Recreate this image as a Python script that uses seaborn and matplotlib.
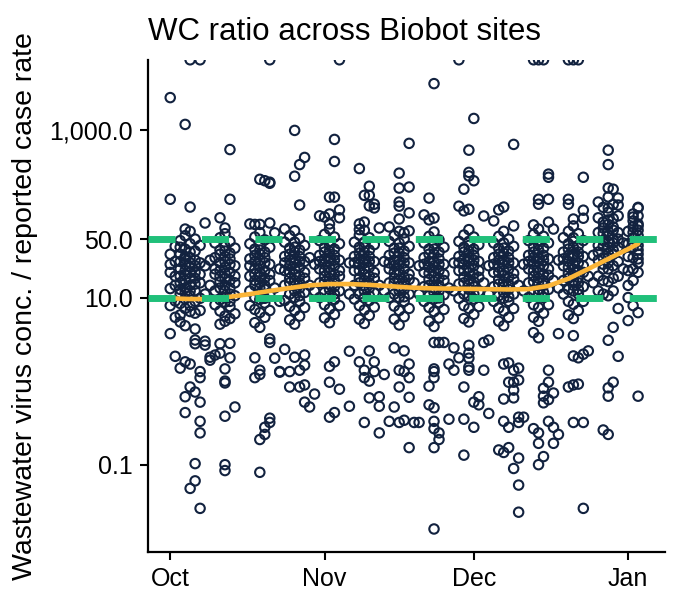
import pandas as pd
import seaborn as sns
import matplotlib.pyplot as plt
from matplotlib.ticker import NullLocator

# weekly sampling rounds: {day offset from round centre: ratios}
wk1005 = {-4: [33, 25, 20, 12.8, 8.0, 2470, 150, 3.7],
          -3: [41, 27, 14, 9.1, 5.8, 18, 1.98],
          -2: [48, 33, 22, 15, 11, 8.5, 6.2, 27, 18, 12.5, 40, 5.1, 1.43],
          -1: [55, 38, 29, 21, 16, 13, 9.6, 7.4, 25, 19, 31, 4.6, 11.5, 1180, 66, 1.7, 0.65, 0.42],
          0: [62, 44, 35, 26, 20, 14, 10.5, 8.0, 6.8, 17, 23, 30, 12, 7000, 121, 1.6, 0.85, 0.052],
          1: [50, 36, 24, 17, 12, 9.0, 6.5, 28, 20, 14.5, 4.2, 3.1, 2.8, 0.74, 0.103, 0.064],
          2: [42, 26, 15, 9.8, 19, 7.0, 7000, 1.3, 1.1, 0.56, 0.33, 0.24, 0.030],
          3: [78, 3.0, 2.7, 24, 11]}
wk1012 = {-3: [1.93, 1.78, 28, 14],
          -2: [2.05, 45, 30, 19, 12, 8.2, 22],
          -1: [52, 37, 26, 18, 13, 9.4, 6.9, 4.8, 21, 33, 15.5, 90, 2.16, 2.8],
          0: [58, 41, 31, 23, 17, 12, 8.8, 6.0, 27, 19.5, 14, 10, 36, 5.2, 68, 1.4, 1.0, 0.95, 0.38, 0.1, 0.085],
          1: [47, 34, 25, 16, 11, 7.8, 29, 20, 13, 9.0, 5.6, 590, 150, 2.83, 1.9],
          2: [39, 24, 15, 10.5, 6.4, 18, 0.49]}
wk1019 = {-2: [44, 29, 18, 12, 8.0, 24, 76],
          -1: [53, 38, 27, 19, 14, 10, 7.2, 5.0, 22, 32, 16, 75, 1.9, 1.1],
          0: [60, 43, 33, 24, 18, 13, 9.5, 6.6, 28, 20, 15, 11, 37, 4.4, 260, 75, 1.35, 1.2, 0.2, 0.081],
          1: [49, 35, 26, 17, 12.5, 8.6, 30, 21, 14, 9.8, 5.8, 250, 0.28, 0.23],
          2: [40, 25, 16, 11, 7.0, 19, 7000, 240, 233, 78, 3.2, 2.9, 0.36, 0.32],
          3: [59.5, 1.88, 13]}
wk1026 = {-3: [1.28, 1.3, 22, 9],
          -2: [46, 31, 21, 14, 9.2, 26, 66, 2.4],
          -1: [55, 39, 28, 20, 15, 11, 7.8, 5.4, 24, 33, 17, 1.3, 0.85],
          0: [63, 46, 35, 26, 19, 14, 10, 7.0, 29, 22, 16, 12, 40, 4.8, 1000, 283, 1.93],
          1: [51, 37, 27, 18, 13, 9.0, 31, 23, 15, 10.5, 6.0, 390, 128, 1.35, 0.85],
          2: [42, 27, 17, 11.5, 7.6, 20, 475, 1.55, 2.05, 0.9, 0.56],
          3: [0.49, 14, 30]}
wk1102 = {-3: [0.7, 25, 12],
          -2: [48, 32, 22, 15, 10, 27, 95],
          -1: [57, 40, 29, 21, 15.5, 11.5, 8.2, 5.7, 25, 35, 18, 92],
          0: [66, 47, 36, 27, 20, 14.5, 10.5, 7.3, 30, 23, 17, 12.5, 42, 5.0, 159, 100, 76, 1.5, 0.97, 0.37],
          1: [53, 38, 28, 19, 13.5, 9.5, 32, 24, 16, 11, 6.3, 780, 425, 159, 1.7, 0.42],
          2: [44, 28, 18, 12, 8.0, 21, 7000, 112, 90, 0.8]}
wk1109 = {-3: [2.28, 0.5, 26, 11],
          -2: [46, 31, 21, 14, 9.6, 26],
          -1: [56, 40, 29, 21, 15, 11, 8.0, 5.5, 25, 34, 17, 350, 76, 65, 1.7],
          0: [64, 46, 35, 26, 19, 14, 10, 7.1, 29, 22, 16, 12, 40, 4.9, 167, 80, 1.35, 1.1, 0.32],
          1: [52, 37, 27, 18, 13, 9.2, 31, 23, 15, 10.5, 6.1, 215, 167, 125, 1.0, 2.3, 0.63],
          2: [43, 27, 17, 11.5, 7.7, 20, 118, 131, 1.7, 1.3],
          3: [68, 0.65, 0.5, 0.24, 14]}
wk1116 = {-3: [1.2, 27, 12],
          -2: [47, 32, 22, 15, 10, 26, 70, 0.33],
          -1: [55, 39, 28, 20, 15, 11, 7.9, 5.5, 24, 34, 17, 2.5, 0.49],
          0: [62, 45, 34, 25, 19, 13.5, 10, 7.0, 28, 21, 16, 12, 39, 4.7, 308, 204, 139, 124, 87, 1.35, 0.85, 0.32],
          1: [50, 36, 26, 17.5, 12.5, 9.0, 30, 22, 14.5, 10.2, 5.9, 59.5, 2.3, 1.3, 0.34],
          2: [41, 26, 16.5, 11, 7.4, 19, 700, 210, 103, 62.8, 1.6, 1.1, 0.64, 0.16],
          3: [0.32, 15]}
wk1123 = {-3: [0.32, 24, 11],
          -2: [45, 30, 20, 13.5, 9.0, 25, 97.5],
          -1: [54, 38, 27, 19.5, 14, 10.5, 7.6, 5.2, 23, 33, 16.5, 155, 85, 0.87, 0.52],
          0: [61, 44, 33, 24, 18, 13, 9.6, 6.8, 27, 20.5, 15.5, 11.5, 38, 4.5, 3630, 89.4, 2.9, 1.4, 1.3, 1.1,
              0.48, 0.33, 0.27, 0.16, 0.017],
          1: [49, 35, 25, 17, 12, 8.7, 29, 21, 14, 9.9, 5.7, 2.9, 0.24, 0.2],
          2: [40, 25, 16, 10.8, 7.2, 19, 2.9],
          3: [0.35, 1.6, 13]}
wk1130 = {-3: [2.5, 1.35, 26, 12],
          -2: [47, 31, 21, 14.5, 9.8, 26, 7000, 124, 1.9],
          -1: [56, 40, 29, 21, 15, 11, 8.0, 5.6, 25, 35, 17.5, 198, 109, 0.85, 0.35, 0.13],
          0: [65, 47, 36, 27, 20, 14.5, 10.5, 7.4, 30, 22.5, 16.5, 12.5, 42, 5.1, 580, 315, 285, 114, 1.35,
              2.68, 2.16, 1.88, 1.47],
          1: [53, 38, 28, 19, 13.5, 9.6, 32, 24, 15.5, 11, 6.3, 1390, 250, 0.56, 0.28],
          2: [43, 27, 17.5, 11.8, 7.8, 21, 0.52, 0.65],
          3: [94.6, 1.35, 2.9, 15]}
wk1207 = {-3: [3.1, 0.41, 24, 11],
          -2: [45, 30, 20, 13.5, 9.0, 25, 82.6],
          -1: [54, 39, 28, 20, 14.5, 10.5, 7.5, 5.2, 23, 33, 16.5, 112, 0.15],
          0: [62, 45, 34, 25, 18.5, 13.5, 9.8, 6.9, 28, 21, 15.5, 11.5, 39, 4.6, 121, 1.6, 0.61, 0.33, 0.14],
          1: [50, 36, 26, 17.5, 12.5, 9.0, 30, 22, 14.5, 10.2, 5.8, 1.65, 0.97, 0.28, 0.16],
          2: [41, 26, 16.5, 11, 7.4, 19.5, 680, 72, 1.35, 0.97, 0.78, 0.63, 0.09],
          3: [1.43, 1.03, 0.37, 0.32, 0.12, 0.057, 0.027, 14]}
wk1214 = {-3: [0.37, 25, 12],
          -2: [48, 32, 22, 15, 10, 27],
          -1: [57, 41, 30, 21, 15.5, 11.5, 8.2, 5.8, 25, 35, 18, 7000, 74, 3.8, 0.27],
          0: [66, 48, 37, 27, 20, 15, 11, 7.6, 30, 23, 17, 12.5, 43, 5.2, 7000, 150, 131, 3.3, 0.24, 0.18, 0.1],
          1: [54, 39, 28, 19, 14, 10, 32, 24, 16, 11.5, 6.5, 7000, 0.82, 0.66, 0.55, 0.125],
          2: [45, 29, 18.5, 12.5, 8.2, 22, 300, 275, 150, 80, 1.35, 0.97, 0.6, 0.33],
          3: [66, 0.72, 0.28, 0.18, 16]}
wk1221 = {-3: [0.23, 3.7, 28, 13],
          -2: [52, 35, 24, 16, 11, 29],
          -1: [62, 44, 32, 23, 17, 12.5, 9.0, 6.2, 27, 38, 19.5, 7000, 150, 131, 0.85],
          0: [72, 52, 40, 30, 22, 16, 12, 8.3, 33, 25, 18.5, 14, 47, 5.6, 7000, 87, 3.5, 2.0, 0.9, 0.32],
          1: [58, 42, 31, 21, 15, 11, 35, 26, 17.5, 12.5, 7.0, 7000, 1.9, 0.92],
          2: [48, 31, 20, 13.5, 9.0, 24, 275, 111, 89, 2.1, 0.32, 0.03],
          3: [2.3, 18]}
wk1228 = {-3: [32, 15],
          -2: [90, 60, 42, 28, 18, 12, 35, 139],
          -1: [120, 80, 58, 41, 30, 22, 16, 11, 48, 68, 25, 0.26],
          0: [160, 105, 75, 55, 40, 30, 22, 15.5, 10.5, 62, 46, 34, 26, 85, 580, 390, 205, 118, 3.08, 0.83,
              0.66, 0.23],
          1: [130, 88, 64, 45, 33, 24, 17, 70, 50, 37, 12, 198, 4.4, 0.97],
          2: [95, 60, 40, 27, 18, 50, 155, 128, 1.98, 7.4],
          3: [45, 22]}
wk0104 = {-3: [62, 44, 31, 21, 14, 10, 5.3],
          -2: [100, 70, 52, 40, 30, 22, 16, 60, 45, 92, 82.6, 8.0],
          -1: [120, 95, 72, 55, 42, 33, 26, 20, 64, 48, 37, 29, 118, 76, 6.6, 0.66]}

round_centres = ["2021-10-05", "2021-10-12", "2021-10-19", "2021-10-26", "2021-11-02", "2021-11-09",
                 "2021-11-16", "2021-11-23", "2021-11-30", "2021-12-07", "2021-12-14", "2021-12-21",
                 "2021-12-28", "2022-01-04"]
rounds = [wk1005, wk1012, wk1019, wk1026, wk1102, wk1109, wk1116, wk1123, wk1130, wk1207, wk1214,
          wk1221, wk1228, wk0104]

# smoothed trend
trend_dates = ["2021-10-01", "2021-10-05", "2021-10-09", "2021-10-13", "2021-10-17", "2021-10-21",
               "2021-10-25", "2021-10-29", "2021-11-02", "2021-11-06", "2021-11-10", "2021-11-14",
               "2021-11-18", "2021-11-22", "2021-11-26", "2021-11-30", "2021-12-04", "2021-12-08",
               "2021-12-12", "2021-12-16", "2021-12-20", "2021-12-24", "2021-12-28", "2022-01-01",
               "2022-01-03"]
trend_vals = [9.8, 9.6, 9.6, 10.2, 11.0, 12.0, 13.0, 14.0, 14.5, 14.5, 14.2, 13.7, 13.2, 12.9, 12.8,
              12.7, 12.6, 12.5, 12.6, 13.8, 16.8, 22, 29, 38, 44]

thresholds = [10, 50]
ytick_vals = [0.1, 10, 50, 1000]
ytick_labels = ["0.1", "10.0", "50.0", "1,000.0"]
xtick_dates = ["2021-10-01", "2021-11-01", "2021-12-01", "2022-01-01"]
xtick_labels = ["Oct", "Nov", "Dec", "Jan"]

NAVY = "#12223f"
GREEN = "#20c07a"
ORANGE = "#fbb538"

rows = []
for centre, groups in zip(round_centres, rounds):
    c = pd.Timestamp(centre)
    for off, vals in groups.items():
        for v in vals:
            rows.append({"date": c + pd.Timedelta(days=off), "ratio": v})
df = pd.DataFrame(rows)
trend = pd.DataFrame({"date": pd.to_datetime(trend_dates), "ratio": trend_vals})

sns.set_style("ticks")
plt.rcParams["font.family"] = ["Liberation Sans", "DejaVu Sans"]
plt.rcParams["text.color"] = "black"
plt.rcParams["axes.labelcolor"] = "black"

fig, ax = plt.subplots(figsize=(6.8, 6.04), dpi=100)
fig.subplots_adjust(left=0.218, right=0.978, bottom=0.086, top=0.901)

sns.scatterplot(data=df, x="date", y="ratio", s=46, facecolor="none", edgecolor=NAVY,
                linewidth=1.5, ax=ax, zorder=2)
sns.lineplot(data=trend, x="date", y="ratio", color=ORANGE, lw=3.3, ax=ax, zorder=3)
for t in thresholds:
    ax.axhline(t, color=GREEN, lw=5, dashes=(3.9, 3.8), zorder=4)

ax.set_yscale("log")
ax.set_ylim(0.009, 7000)
ax.set_yticks(ytick_vals)
ax.set_yticklabels(ytick_labels)
ax.yaxis.set_minor_locator(NullLocator())
ax.set_xlim(pd.Timestamp("2021-09-26 14:00"), pd.Timestamp("2022-01-08 10:00"))
ax.set_xticks(pd.to_datetime(xtick_dates))
ax.set_xticklabels(xtick_labels)

ax.tick_params(labelsize=18, length=6, width=1.5, color="black", labelcolor="black", pad=5)
for side in ["left", "bottom"]:
    ax.spines[side].set_linewidth(1.6)
    ax.spines[side].set_color("black")
sns.despine(ax=ax)

ax.set_xlabel("")
ax.set_ylabel("Wastewater virus conc. / reported case rate", fontsize=20.5, labelpad=8, color="black")
ax.set_title("WC ratio across Biobot sites", loc="left", fontsize=22.5, pad=14, color="black")

fig.savefig("out.png", dpi=100)
